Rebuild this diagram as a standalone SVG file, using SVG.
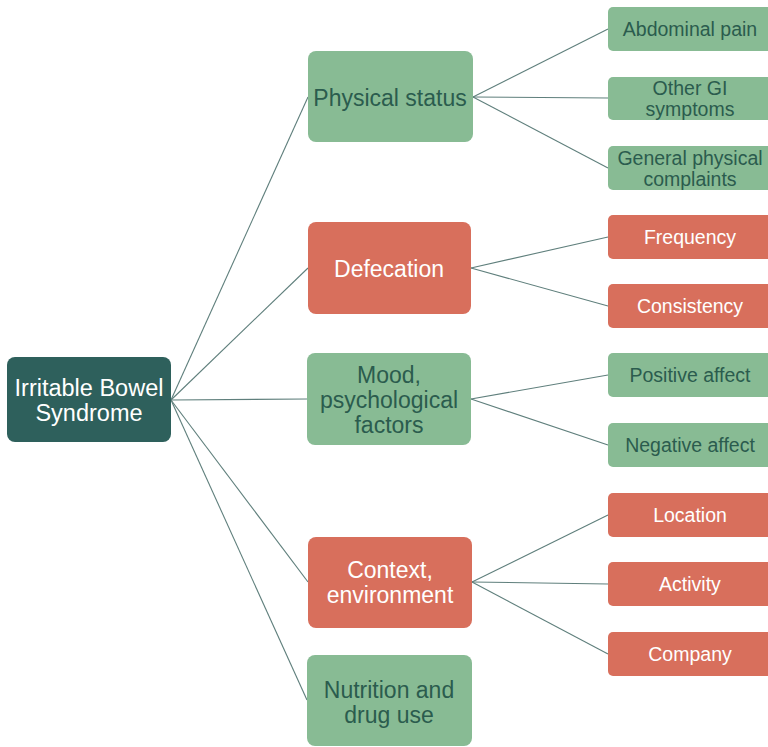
<svg xmlns="http://www.w3.org/2000/svg" width="768" height="747" viewBox="0 0 768 747">
<style>
.g rect{fill:#88bb94}
.r rect{fill:#d86f5c}
.g text{fill:#2b5c4e}
.r text{fill:#ffffff}
text{font-family:"Liberation Sans",Arial,sans-serif;text-anchor:middle}
.m text{font-size:23px}
.l text{font-size:19.5px}
#conn line{stroke:#5f7f7c;stroke-width:1.1}
</style>
<rect width="768" height="747" fill="#ffffff"/>
<g id="conn">
<line x1="171" y1="400" x2="308" y2="97"/>
<line x1="171" y1="400" x2="308" y2="268"/>
<line x1="171" y1="400" x2="307" y2="399"/>
<line x1="171" y1="400" x2="308" y2="582"/>
<line x1="171" y1="400" x2="307" y2="700"/>
<line x1="473" y1="97" x2="608" y2="29"/>
<line x1="473" y1="97" x2="608" y2="98"/>
<line x1="473" y1="97" x2="608" y2="168"/>
<line x1="471" y1="268" x2="608" y2="237"/>
<line x1="471" y1="268" x2="608" y2="306"/>
<line x1="471" y1="399" x2="608" y2="375"/>
<line x1="471" y1="399" x2="608" y2="445"/>
<line x1="472" y1="582" x2="608" y2="515"/>
<line x1="472" y1="582" x2="608" y2="584"/>
<line x1="472" y1="582" x2="608" y2="654"/>
</g>
<g id="root">
<rect x="7" y="357" width="164" height="85" rx="8" fill="#2e605c"/>
<text x="89" y="396" font-size="23.5" fill="#ffffff">Irritable Bowel</text>
<text x="89" y="421" font-size="23.5" fill="#ffffff">Syndrome</text>
</g>
<g id="physical" class="g m">
<rect x="308" y="51" width="165" height="91" rx="8"/>
<text x="390" y="106">Physical status</text>
</g>
<g id="defecation" class="r m">
<rect x="308" y="222" width="163" height="92" rx="8"/>
<text x="389" y="277">Defecation</text>
</g>
<g id="mood" class="g m">
<rect x="307" y="353" width="164" height="92" rx="8"/>
<text x="389" y="383">Mood,</text>
<text x="389" y="408">psychological</text>
<text x="389" y="433">factors</text>
</g>
<g id="context" class="r m">
<rect x="308" y="537" width="164" height="91" rx="8"/>
<text x="390" y="578">Context,</text>
<text x="390" y="603">environment</text>
</g>
<g id="nutrition" class="g m">
<rect x="307" y="655" width="165" height="91" rx="8"/>
<text x="389" y="698">Nutrition and</text>
<text x="389" y="723">drug use</text>
</g>
<g id="abdominal" class="g l">
<rect x="608" y="7" width="164" height="44" rx="5"/>
<text x="690" y="36">Abdominal pain</text>
</g>
<g id="othergi" class="g l">
<rect x="608" y="77" width="164" height="43" rx="5"/>
<text x="690" y="95">Other GI</text>
<text x="690" y="116">symptoms</text>
</g>
<g id="general" class="g l">
<rect x="608" y="146" width="164" height="44" rx="5"/>
<text x="690" y="165">General physical</text>
<text x="690" y="186">complaints</text>
</g>
<g id="frequency" class="r l">
<rect x="608" y="215" width="164" height="44" rx="5"/>
<text x="690" y="244">Frequency</text>
</g>
<g id="consistency" class="r l">
<rect x="608" y="284" width="164" height="44" rx="5"/>
<text x="690" y="313">Consistency</text>
</g>
<g id="positive" class="g l">
<rect x="608" y="353" width="164" height="44" rx="5"/>
<text x="690" y="382">Positive affect</text>
</g>
<g id="negative" class="g l">
<rect x="608" y="423" width="164" height="44" rx="5"/>
<text x="690" y="452">Negative affect</text>
</g>
<g id="location" class="r l">
<rect x="608" y="493" width="164" height="44" rx="5"/>
<text x="690" y="522">Location</text>
</g>
<g id="activity" class="r l">
<rect x="608" y="562" width="164" height="44" rx="5"/>
<text x="690" y="591">Activity</text>
</g>
<g id="company" class="r l">
<rect x="608" y="632" width="164" height="44" rx="5"/>
<text x="690" y="661">Company</text>
</g>
</svg>
